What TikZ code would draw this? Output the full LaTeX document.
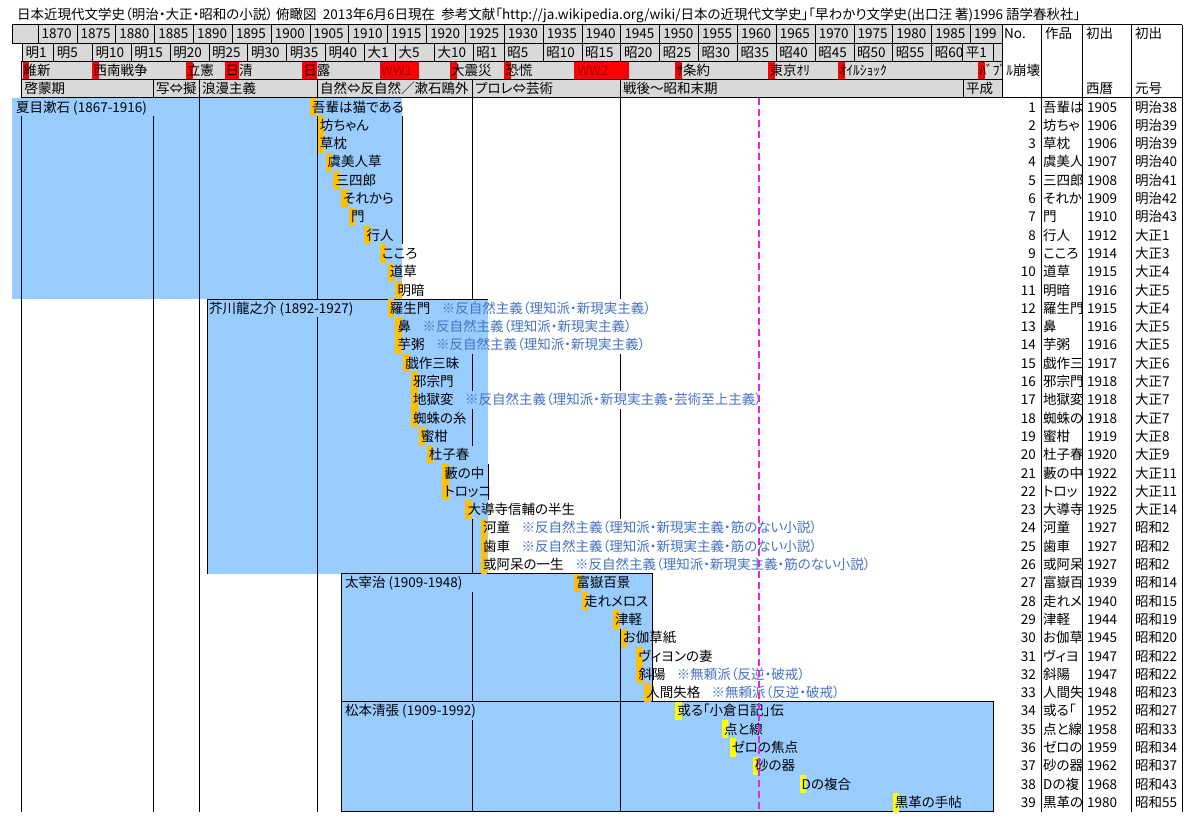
\documentclass[tikz,border=0pt]{standalone}
\usepackage{fontspec}
\setmainfont{Noto Sans CJK JP}[RawFeature=+palt]
\usetikzlibrary{positioning}

\definecolor{cellgray}{RGB}{217,217,217}
\definecolor{boxblue}{RGB}{153,204,255}
\definecolor{pubor}{RGB}{255,192,0}
\definecolor{pubye}{RGB}{255,255,0}
\definecolor{evred}{RGB}{255,0,0}
\definecolor{wwtext}{RGB}{165,0,0}
\definecolor{noteblue}{RGB}{68,114,196}
\definecolor{nowline}{RGB}{225,40,225}

\begin{document}
\begin{tikzpicture}[
    x=1pt, y=-1pt,
    declare function={yx(\v)=310+7.77*(\v-1905); rt(\r)=97.85+(\r-1)*18.3;},
    font=\fontsize{13.5}{16}\selectfont,
    txt/.style={inner sep=0pt, text height=11.5pt, text depth=1.5pt, anchor=west},
    hcell/.style={draw=black, fill=cellgray, line width=0.8pt},
    grid/.style={draw=black, line width=1pt},
    work/.style={txt},
    note/.style={txt, text=noteblue}
]
    \useasboundingbox (0,0) rectangle (1200,822);

    % title
    \node[txt] (title) at (17,14) {日本近現代文学史（明治・大正・昭和の小説）\ 俯瞰図\ \ 2013年6月6日現在\ \ 参考文献「http://ja.wikipedia.org/wiki/日本の近現代文学史」「早わかり文学史(出口汪 著)1996 語学春秋社」};

    % years
    \draw[hcell] (12,24.65) rectangle ({yx(1870)},42.95);
    \foreach \yr in {1870,1875,...,1985}{
        \draw[hcell] ({yx(\yr)},24.65) rectangle ({yx(\yr+5)},42.95);
        \node[txt] (yl\yr) at ({yx(\yr)+3.5},33.8) {\yr};
    }
    \draw[hcell] ({yx(1990)},24.65) rectangle (1002,42.95);
    \node[txt] (yl1990) at ({yx(1990)+3.5},33.8) {199};

    % eras
    \foreach \ya/\yb/\ttl [count=\k] in {1868/1872/明1, 1872/1877/明5, 1877/1882/明10, 1882/1887/明15, 1887/1892/明20, 1892/1897/明25, 1897/1902/明30, 1902/1907/明35, 1907/1912/明40, 1912/1916/大1, 1916/1921/大5, 1921/1926/大10, 1926/1930/昭1, 1930/1935/昭5, 1935/1940/昭10, 1940/1945/昭15, 1945/1950/昭20, 1950/1955/昭25, 1955/1960/昭30, 1960/1965/昭35, 1965/1970/昭40, 1970/1975/昭45, 1975/1980/昭50, 1980/1985/昭55, 1985/1989/昭60, 1989/1993/平1}{
        \draw[hcell] ({yx(\ya)},42.95) rectangle ({yx(\yb)},61.25);
        \begin{scope}
            \clip ({yx(\ya)},42.95) rectangle ({yx(\yb)},61.25);
            \node[txt] (el\k) at ({yx(\ya)+3},52.1) {\ttl};
        \end{scope}
    }
    \draw[hcell] ({yx(1993)},42.95) rectangle (1002,61.25);

    % events
    \draw[hcell] (21.5,61.25) rectangle (1002,79.55);
    \foreach \ya/\yb/\ttl [count=\k] in {1868/1869/維新, 1877/1878/西南戦争, 1889/1890/立憲, 1894/1896/日清, 1904/1906/日露, 1923/1924/大震災, 1930/1931/恐慌, 1952/1953/ｻ条約, 1964/1965/東京ｵﾘ, 1973/1974/ｵｲﾙｼｮｯｸ, 1991/1992/ﾊﾞﾌﾞﾙ崩壊}{
        \fill[evred] ({yx(\ya)},61.8) rectangle ({yx(\yb)-0.8},79);
        \node[txt] (ev\k) at ({yx(\ya)+1},70.4) {\ttl};
    }
    \fill[evred] ({yx(1914)},61.8) rectangle ({yx(1919)},79);
    \node[txt, text=wwtext] (ww1) at ({yx(1914)+1},70.4) {WW1};
    \fill[evred] ({yx(1939)},61.8) rectangle ({yx(1946)},79);
    \node[txt, text=wwtext] (ww2) at ({yx(1939)+3},70.4) {WW2};

    % periods
    \foreach \xa/\xb/\ttl [count=\k] in {21.5/153/啓蒙期, 153/199/写⇔擬, 199/317/浪漫主義, 317/472/自然⇔反自然／漱石鴎外, 472/620/プロレ⇔芸術, 620/963/戦後〜昭和末期, 963/1002/平成}{
        \draw[hcell] (\xa,79.55) rectangle (\xb,97.85);
        \begin{scope}
            \clip (\xa,79.55) rectangle (\xb,97.85);
            \node[txt] (pl\k) at (\xa+3,88.7) {\ttl};
        \end{scope}
    }

    % table head
    \draw[grid] (12,24.65) -- (1182,24.65);
    \draw[grid] (1002,97.85) -- (1182,97.85);
    \foreach \xx in {1041,1082,1131,1182}
        \draw[grid] (\xx,24.65) -- (\xx,{rt(40)});
    \node[txt] (hno) at (1004,33.8) {No.};
    \node[txt] (hwork) at (1045,33.8) {作品};
    \node[txt] (hfirst) at (1086,33.8) {初出};
    \node[txt] (hfirsttwo) at (1135,33.8) {初出};
    \node[txt] (hseireki) at (1086,88.7) {西暦};
    \node[txt] (hgengo) at (1135,88.7) {元号};

    % author boxes
    \fill[boxblue] (12,{rt(1)}) rectangle (402,{rt(12)});
    \fill[boxblue] (207,{rt(12)}) rectangle (488,{rt(27)});
    \filldraw[fill=boxblue, draw=black, line width=1pt] (341,{rt(27)}) rectangle (652,{rt(34)});
    \filldraw[fill=boxblue, draw=black, line width=1pt] (341,{rt(34)}) rectangle (993,{rt(40)});
    \draw[grid] (207,{rt(27)}) -- (207,{rt(12)}) -- (488,{rt(12)});

    % period lines
    \foreach \xx/\ra/\rb in {21.5/2/39, 153/2/39, 199/1/39, 317/2/11, 317/13/39, 402/2/8, 472/1/11, 472/15/16, 472/18/19, 472/24/26, 472/28/33, 472/35/39, 488/21/22, 620/1/11, 620/15/16, 620/18/23, 620/30/39}
        \draw[grid] (\xx,{rt(\ra)}) -- (\xx,{rt(\rb+1)});

    \node[txt] (soseki) at (16,{rt(1)+9.15}) {夏目漱石 (1867-1916)};
    \node[txt] (akutagawa) at (209,{rt(12)+9.15}) {芥川龍之介 (1892-1927)};
    \node[txt] (dazai) at (345,{rt(27)+9.15}) {太宰治 (1909-1948)};
    \node[txt] (matsumoto) at (345,{rt(34)+9.15}) {松本清張 (1909-1992)};

    % works
    \foreach \i/\yr/\ttl/\cut/\gen/\col in {1/1905/吾輩は猫である/吾輩は/明治38/pubor, 2/1906/坊ちゃん/坊ちゃ/明治39/pubor, 3/1906/草枕/草枕/明治39/pubor, 4/1907/虞美人草/虞美人/明治40/pubor, 5/1908/三四郎/三四郎/明治41/pubor, 6/1909/それから/それか/明治42/pubor, 7/1910/門/門/明治43/pubor, 8/1912/行人/行人/大正1/pubor, 9/1914/こころ/こころ/大正3/pubor, 10/1915/道草/道草/大正4/pubor, 11/1916/明暗/明暗/大正5/pubor, 12/1915/羅生門/羅生門/大正4/pubor, 13/1916/鼻/鼻/大正5/pubor, 14/1916/芋粥/芋粥/大正5/pubor, 15/1917/戯作三昧/戯作三/大正6/pubor, 16/1918/邪宗門/邪宗門/大正7/pubor, 17/1918/地獄変/地獄変/大正7/pubor, 18/1918/蜘蛛の糸/蜘蛛の/大正7/pubor, 19/1919/蜜柑/蜜柑/大正8/pubor, 20/1920/杜子春/杜子春/大正9/pubor, 21/1922/藪の中/藪の中/大正11/pubor, 22/1922/トロッコ/トロッ/大正11/pubor, 23/1925/大導寺信輔の半生/大導寺/大正14/pubor, 24/1927/河童/河童/昭和2/pubor, 25/1927/歯車/歯車/昭和2/pubor, 26/1927/或阿呆の一生/或阿呆/昭和2/pubor, 27/1939/富嶽百景/富嶽百/昭和14/pubor, 28/1940/走れメロス/走れメ/昭和15/pubor, 29/1944/津軽/津軽/昭和19/pubor, 30/1945/お伽草紙/お伽草/昭和20/pubor, 31/1947/ヴィヨンの妻/ヴィヨ/昭和22/pubor, 32/1947/斜陽/斜陽/昭和22/pubor, 33/1948/人間失格/人間失/昭和23/pubor, 34/1952/或る「小倉日記」伝/或る「/昭和27/pubye, 35/1958/点と線/点と線/昭和33/pubye, 36/1959/ゼロの焦点/ゼロの/昭和34/pubye, 37/1962/砂の器/砂の器/昭和37/pubye, 38/1968/Dの複合/Dの複/昭和43/pubye, 39/1980/黒革の手帖/黒革の/昭和55/pubye}{
        \fill[\col] ({yx(\yr)},{rt(\i)}) rectangle ({yx(\yr)+6.5},{rt(\i+1)});
        \node[work] (w\i) at ({yx(\yr)+2},{rt(\i)+9.15}) {\ttl};
        \node[txt, anchor=east] (no\i) at (1036,{rt(\i)+9.15}) {\i};
        \node[txt] (sy\i) at (1087,{rt(\i)+9.15}) {\yr};
        \node[txt] (gy\i) at (1135,{rt(\i)+9.15}) {\gen};
        \begin{scope}
            \clip (1041.5,{rt(\i)}) rectangle (1081.5,{rt(\i+1)});
            \node[txt] (tt\i) at (1043,{rt(\i)+9.15}) {\cut};
        \end{scope}
    }

    % notes
    \foreach \i/\ttl in {12/※反自然主義（理知派・新現実主義）, 13/※反自然主義（理知派・新現実主義）, 14/※反自然主義（理知派・新現実主義）, 17/※反自然主義（理知派・新現実主義・芸術至上主義）, 24/※反自然主義（理知派・新現実主義・筋のない小説）, 25/※反自然主義（理知派・新現実主義・筋のない小説）, 26/※反自然主義（理知派・新現実主義・筋のない小説）, 32/※無頼派（反逆・破戒）, 33/※無頼派（反逆・破戒）}
        \node[note, right=11pt of w\i] (n\i) {\ttl};

    \draw[nowline, line width=2pt, dash pattern=on 7pt off 4pt] (759,97.85) -- (759,{rt(40)});
\end{tikzpicture}
\end{document}
